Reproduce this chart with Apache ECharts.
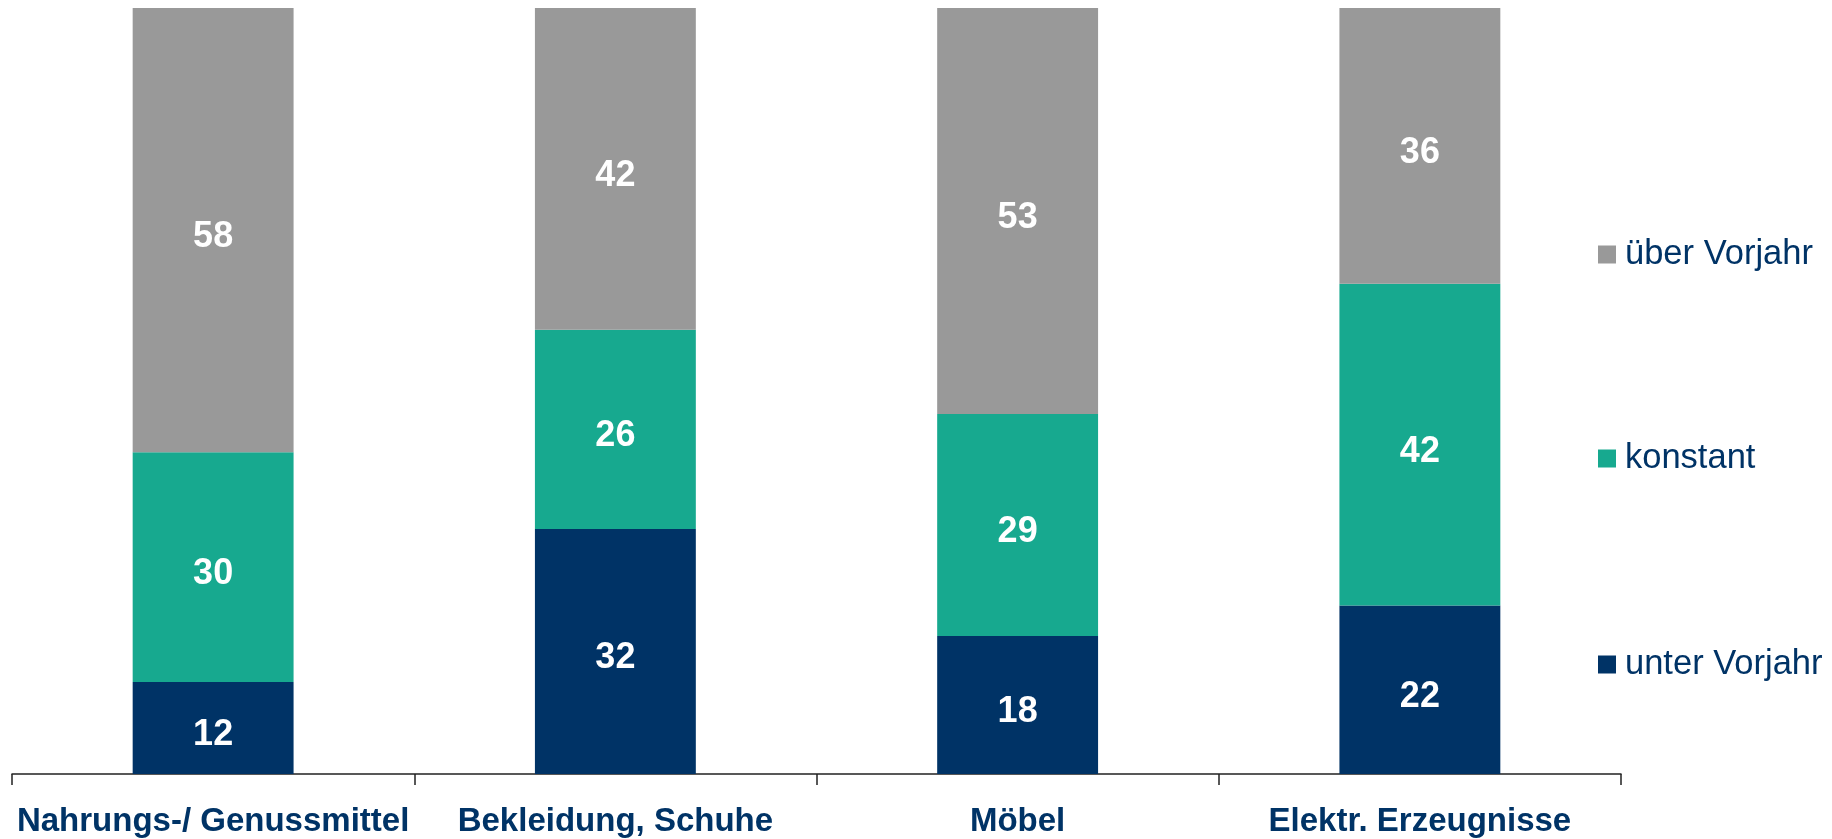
<!DOCTYPE html>
<html>
<head>
<meta charset="utf-8">
<script src="https://cdn.jsdelivr.net/npm/echarts@6/dist/echarts.min.js"></script>
<style>
  html, body { margin: 0; padding: 0; background: #fff; }
  #chart { width: 1832px; height: 839px; }
</style>
</head>
<body>
<div id="chart"></div>
<script>
const categories = ["Nahrungs-/ Genussmittel", "Bekleidung, Schuhe", "Möbel", "Elektr. Erzeugnisse"];
const unterVorjahr = [12, 32, 18, 22];
const konstant = [30, 26, 29, 42];
const ueberVorjahr = [58, 42, 53, 36];

const NAVY = "#003366";
const TEAL = "#17A98F";
const GRAY = "#999999";
const FONT = "'Liberation Sans', Arial, sans-serif";

const chart = echarts.init(document.getElementById("chart"));

const barLabel = {
  show: true,
  position: "inside",
  offset: [0, 7],
  color: "#fff",
  fontFamily: FONT,
  fontWeight: "bold",
  fontSize: 36,
};

function legendAt(name, top) {
  return {
    data: [name],
    left: 1593,
    top: top,
    itemWidth: 18,
    itemHeight: 18,
    itemGap: 0,
    icon: "rect",
    selectedMode: false,
    textStyle: { color: NAVY, fontFamily: FONT, fontSize: 34.5, padding: [0, 0, 0, 4] },
  };
}

const options = {
  animation: false,
  grid: { left: 12, right: 211, top: 8, bottom: 65, containLabel: false },
  legend: [
    legendAt("über Vorjahr", 232),
    legendAt("konstant", 436),
    legendAt("unter Vorjahr", 642),
  ],
  xAxis: {
    type: "category",
    data: categories,
    axisLine: { show: true, lineStyle: { color: "#222", width: 1.5 } },
    axisTick: { show: true, length: 11, interval: 0, alignWithLabel: false, lineStyle: { color: "#222", width: 1.5 } },
    axisLabel: {
      color: NAVY,
      fontFamily: FONT,
      fontWeight: "bold",
      fontSize: 33,
      margin: 31,
      interval: 0,
    },
  },
  yAxis: {
    type: "value",
    min: 0,
    max: 100,
    show: false,
    splitLine: { show: false },
  },
  series: [
    {
      name: "unter Vorjahr",
      type: "bar",
      stack: "total",
      barWidth: "40%",
      data: unterVorjahr,
      itemStyle: { color: NAVY },
      label: barLabel,
    },
    {
      name: "konstant",
      type: "bar",
      stack: "total",
      data: konstant,
      itemStyle: { color: TEAL },
      label: barLabel,
    },
    {
      name: "über Vorjahr",
      type: "bar",
      stack: "total",
      data: ueberVorjahr,
      itemStyle: { color: GRAY },
      label: barLabel,
    },
  ],
};

chart.setOption(options);
</script>
</body>
</html>
